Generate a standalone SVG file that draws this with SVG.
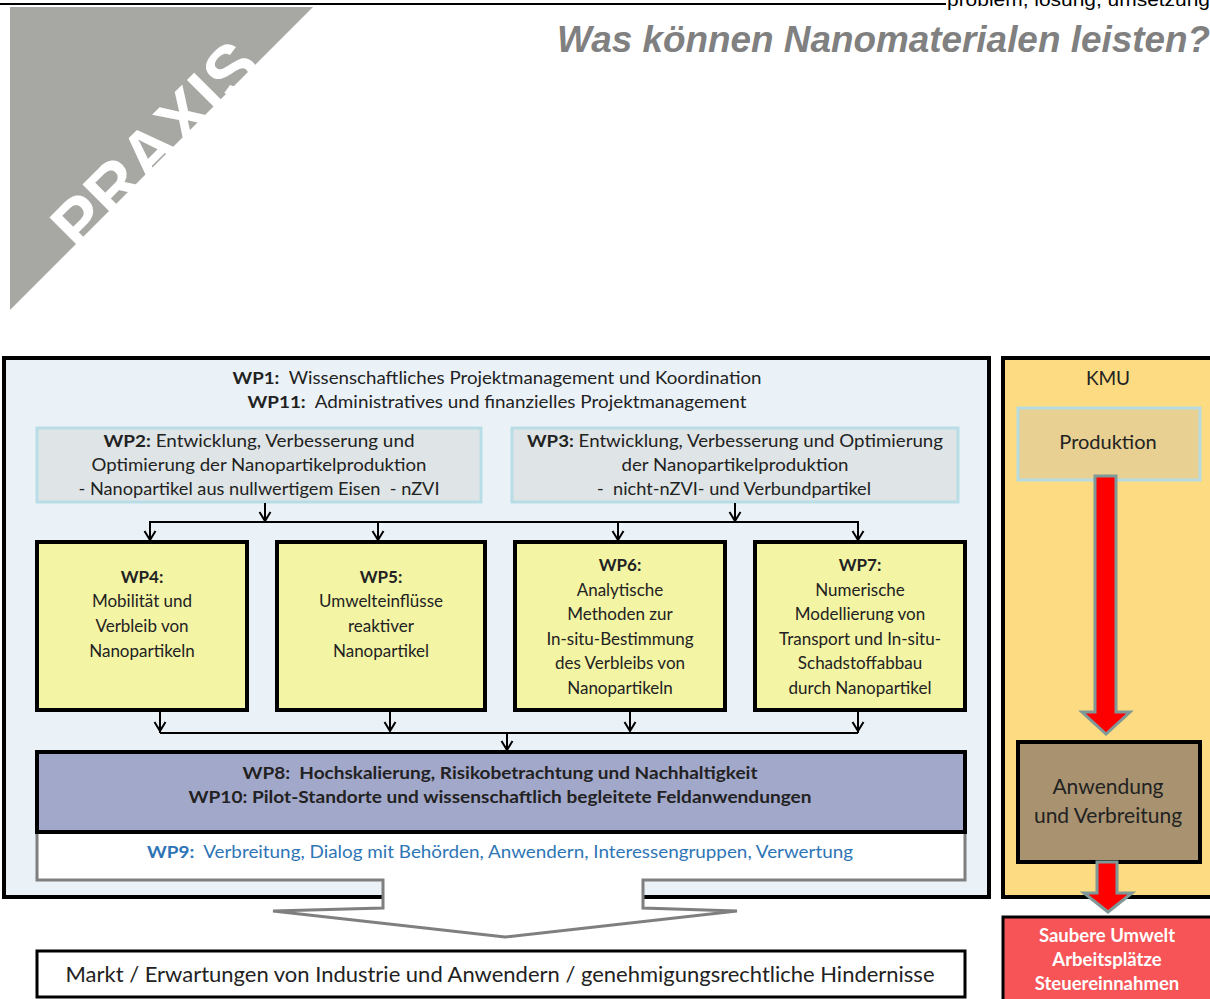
<svg xmlns="http://www.w3.org/2000/svg" width="1210" height="999" viewBox="0 0 1210 999">
<defs>
<marker id="chev" markerUnits="userSpaceOnUse" viewBox="-1 -7 11 14" refX="9" refY="0" markerWidth="11" markerHeight="14" orient="auto">
<path d="M0,-5.5 L9,0 L0,5.5" fill="none" stroke="#000" stroke-width="2"/>
</marker>
</defs>
<style>
.t{font-family:Lato,"Open Sans","Liberation Sans",sans-serif;fill:#222;text-anchor:middle}
.s17{font-size:17px}
.b{font-weight:bold}
.box{fill:#f3f4a4;stroke:#000;stroke-width:4}
.wpb{fill:#dfe5e6;stroke:#b9dde6;stroke-width:3}
.con{fill:none;stroke:#000;stroke-width:2}
.red{fill:#f00;stroke:#7f9898;stroke-width:3}
</style>

<g id="header">
<line x1="0" y1="4" x2="946" y2="4" stroke="#000" stroke-width="2"/>
<text x="947" y="6" font-family="Liberation Sans,Arial,sans-serif" font-size="18" fill="#000" textLength="263" lengthAdjust="spacingAndGlyphs">problem, lösung, umsetzung</text>
<polygon points="10,7 313,7 10,310" fill="#a7a7a3"/>
<text x="172.5" y="162.5" transform="rotate(-45 172.5 162.5)" font-family="Liberation Sans,Arial,sans-serif" font-size="70" font-weight="bold" fill="#fff" text-anchor="middle">PRAXIS</text>
<text x="557" y="52" font-family="Liberation Sans,Arial,sans-serif" font-size="36" font-weight="bold" font-style="italic" fill="#808080" textLength="653" lengthAdjust="spacingAndGlyphs">Was können Nanomaterialen leisten?</text>
</g>

<g id="main">
<rect x="4" y="358" width="985" height="539" fill="#eaf2f8" stroke="#000" stroke-width="4"/>
<text class="t s17" x="497" y="384" textLength="529" lengthAdjust="spacingAndGlyphs"><tspan class="b">WP1:</tspan>&#160; Wissenschaftliches Projektmanagement und Koordination</text>
<text class="t s17" x="497" y="408" textLength="499" lengthAdjust="spacingAndGlyphs"><tspan class="b">WP11:</tspan>&#160; Administratives und finanzielles Projektmanagement</text>
</g>

<g id="wp2">
<rect class="wpb" x="37" y="428" width="444" height="74"/>
<text class="t s17" x="259" y="447" textLength="311" lengthAdjust="spacingAndGlyphs"><tspan class="b">WP2:</tspan> Entwicklung, Verbesserung und</text>
<text class="t s17" x="259" y="471" textLength="335" lengthAdjust="spacingAndGlyphs">Optimierung der Nanopartikelproduktion</text>
<text class="t s17" x="259" y="495" textLength="361" lengthAdjust="spacingAndGlyphs">- Nanopartikel aus nullwertigem Eisen&#160; - nZVI</text>
</g>

<g id="wp3">
<rect class="wpb" x="512" y="428" width="446" height="74"/>
<text class="t s17" x="735" y="447" textLength="416" lengthAdjust="spacingAndGlyphs"><tspan class="b">WP3:</tspan> Entwicklung, Verbesserung und Optimierung</text>
<text class="t s17" x="735" y="471" textLength="227" lengthAdjust="spacingAndGlyphs">der Nanopartikelproduktion</text>
<text class="t s17" x="734" y="495" textLength="274" lengthAdjust="spacingAndGlyphs">-&#160; nicht-nZVI- und Verbundpartikel</text>
</g>

<g id="wp4">
<rect class="box" x="37" y="542" width="210" height="168"/>
<text class="t s17 b" x="142" y="583">WP4:</text>
<text class="t s17" x="142" y="607">Mobilität und</text>
<text class="t s17" x="142" y="632">Verbleib von</text>
<text class="t s17" x="142" y="657">Nanopartikeln</text>
</g>

<g id="wp5">
<rect class="box" x="277" y="542" width="208" height="168"/>
<text class="t s17 b" x="381" y="583">WP5:</text>
<text class="t s17" x="381" y="607">Umwelteinflüsse</text>
<text class="t s17" x="381" y="632">reaktiver</text>
<text class="t s17" x="381" y="657">Nanopartikel</text>
</g>

<g id="wp6">
<rect class="box" x="515" y="542" width="210" height="168"/>
<text class="t s17 b" x="620" y="571">WP6:</text>
<text class="t s17" x="620" y="596">Analytische</text>
<text class="t s17" x="620" y="620">Methoden zur</text>
<text class="t s17" x="620" y="645">In-situ-Bestimmung</text>
<text class="t s17" x="620" y="669">des Verbleibs von</text>
<text class="t s17" x="620" y="694">Nanopartikeln</text>
</g>

<g id="wp7">
<rect class="box" x="755" y="542" width="210" height="168"/>
<text class="t s17 b" x="860" y="571">WP7:</text>
<text class="t s17" x="860" y="596">Numerische</text>
<text class="t s17" x="860" y="620">Modellierung von</text>
<text class="t s17" x="860" y="645">Transport und In-situ-</text>
<text class="t s17" x="860" y="669">Schadstoffabbau</text>
<text class="t s17" x="860" y="694">durch Nanopartikel</text>
</g>

<g id="wp9">
<path d="M37,832 H965 V880 H643 V908 L737,911 L505,937 L273,911 L383,908 V880 H37 Z" fill="#fff" stroke="#7f7f7f" stroke-width="3" stroke-linejoin="miter"/>
<text class="t s17" x="500" y="858" style="fill:#2e75b6" textLength="706" lengthAdjust="spacingAndGlyphs"><tspan class="b">WP9:</tspan>&#160; Verbreitung, Dialog mit Behörden, Anwendern, Interessengruppen, Verwertung</text>
</g>

<g id="wp8">
<rect x="37" y="752" width="928" height="80" fill="#a2a8ca" stroke="#000" stroke-width="4"/>
<text class="t s17 b" x="500" y="779" textLength="515" lengthAdjust="spacingAndGlyphs">WP8:&#160; Hochskalierung, Risikobetrachtung und Nachhaltigkeit</text>
<text class="t s17 b" x="500" y="803" textLength="623" lengthAdjust="spacingAndGlyphs">WP10: Pilot-Standorte und wissenschaftlich begleitete Feldanwendungen</text>
</g>

<g id="markt">
<rect x="37" y="951" width="928" height="46" fill="#fff" stroke="#000" stroke-width="3"/>
<text class="t" x="500" y="982" font-size="21" textLength="869" lengthAdjust="spacingAndGlyphs">Markt / Erwartungen von Industrie und Anwendern / genehmigungsrechtliche Hindernisse</text>
</g>

<g id="kmu">
<rect x="1003" y="358" width="212" height="539" fill="#fddb82" stroke="#000" stroke-width="4"/>
<text class="t" x="1108" y="385" font-size="19">KMU</text>
</g>

<g id="produktion">
<rect x="1018" y="408" width="182" height="72" fill="#e7d091" stroke="#b6dbe0" stroke-width="3"/>
<text class="t" x="1108" y="449" font-size="20">Produktion</text>
</g>

<g id="anwendung">
<rect x="1018" y="742" width="182" height="120" fill="#a8926f" stroke="#000" stroke-width="4"/>
<text class="t" x="1108" y="794" font-size="21">Anwendung</text>
<text class="t" x="1108" y="823" font-size="21">und Verbreitung</text>
</g>

<g id="ergebnis">
<rect x="1003" y="917" width="212" height="84" fill="#f65456" stroke="#000" stroke-width="3"/>
<text class="t b" x="1107" y="942" font-size="18.5" style="fill:#fff">Saubere Umwelt</text>
<text class="t b" x="1107" y="966" font-size="18.5" style="fill:#fff">Arbeitsplätze</text>
<text class="t b" x="1107" y="990" font-size="18.5" style="fill:#fff">Steuereinnahmen</text>
</g>

<g id="connectors">
<line class="con" x1="265" y1="503" x2="265" y2="521" marker-end="url(#chev)"/>
<line class="con" x1="735" y1="503" x2="735" y2="521" marker-end="url(#chev)"/>
<polyline class="con" points="150,540 150,522 858,522 858,540" marker-end="url(#chev)"/>
<line class="con" x1="150" y1="523" x2="150" y2="540" marker-end="url(#chev)"/>
<line class="con" x1="378" y1="522" x2="378" y2="540" marker-end="url(#chev)"/>
<line class="con" x1="618" y1="522" x2="618" y2="540" marker-end="url(#chev)"/>
<line class="con" x1="160" y1="712" x2="160" y2="731" marker-end="url(#chev)"/>
<line class="con" x1="390" y1="712" x2="390" y2="731" marker-end="url(#chev)"/>
<line class="con" x1="630" y1="712" x2="630" y2="731" marker-end="url(#chev)"/>
<line class="con" x1="858" y1="712" x2="858" y2="731" marker-end="url(#chev)"/>
<polyline class="con" points="160,733 858,733"/>
<line class="con" x1="160" y1="731" x2="160" y2="733"/>
<line class="con" x1="858" y1="731" x2="858" y2="733"/>
<line class="con" x1="507" y1="733" x2="507" y2="750" marker-end="url(#chev)"/>
<path class="red" d="M1095,476 H1116 V712 H1130 L1106,734 L1082,712 H1095 Z"/>
<path class="red" d="M1097,862 H1117 V893 H1132 L1108,912 L1084,893 H1097 Z"/>
</g>
</svg>
